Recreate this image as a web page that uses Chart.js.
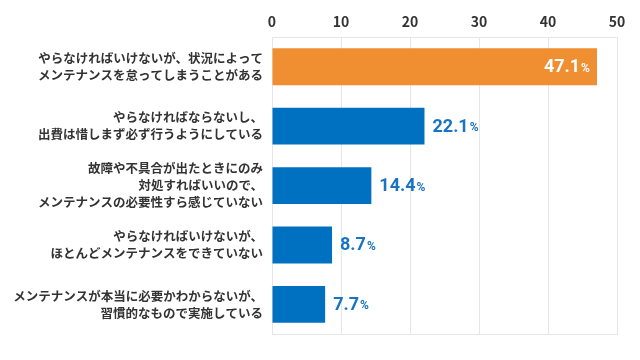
<!DOCTYPE html>
<html lang="ja">
<head>
<meta charset="utf-8">
<title>メンテナンスへの意識</title>
<script src="https://cdn.jsdelivr.net/npm/chart.js@4.4.1/dist/chart.umd.min.js"></script>
<style>
  html, body { margin: 0; padding: 0; background: #fff; }
  #wrap { width: 640px; height: 360px; }
</style>
</head>
<body>
<div id="wrap"><canvas id="chartMaint" width="640" height="360"></canvas></div>
<script>
// ---- data ----
const categories = [
  ['やらなければいけないが、状況によって', 'メンテナンスを怠ってしまうことがある'],
  ['やらなければならないし、', '出費は惜しまず必ず行うようにしている'],
  ['故障や不具合が出たときにのみ', '対処すればいいので、', 'メンテナンスの必要性すら感じていない'],
  ['やらなければいけないが、', 'ほとんどメンテナンスをできていない'],
  ['メンテナンスが本当に必要かわからないが、', '習慣的なもので実施している']
];
const values = [47.1, 22.1, 14.4, 8.7, 7.7];
const tickValues = [0, 10, 20, 30, 40, 50];

(function () {
  'use strict';

  const ORANGE = '#ef8f32';
  const BLUE = '#0071c1';
  const LABEL_BLUE = '#1874c3';
  const INK = '#333333';
  const GRID = '#e6e6e6';
  const JP = "'Noto Sans CJK JP', 'Noto Sans', sans-serif";
  const NUM = "Roboto, 'Noto Sans CJK JP', sans-serif";

  // value labels: "47.1" + smaller "%"
  const valueLabels = {
    id: 'valueLabels',
    afterDatasetsDraw: function (chart) {
      const ctx = chart.ctx;
      const meta = chart.getDatasetMeta(0);
      ctx.save();
      ctx.textBaseline = 'middle';
      meta.data.forEach(function (bar, i) {
        const num = values[i].toFixed(1);
        ctx.font = '700 18px ' + NUM;
        const wNum = ctx.measureText(num).width;
        ctx.font = '700 12px ' + NUM;
        const wPct = ctx.measureText('%').width;
        let x;
        if (i === 0) {
          ctx.fillStyle = '#ffffff';
          x = bar.x - 7 - wNum - wPct - 1;
        } else {
          ctx.fillStyle = LABEL_BLUE;
          x = bar.x + 8;
        }
        const y = bar.y + 1;
        ctx.textAlign = 'left';
        ctx.font = '700 18px ' + NUM;
        ctx.fillText(num, x, y);
        ctx.font = '700 12px ' + NUM;
        ctx.fillText('%', x + wNum + 1, y + 1);
      });
      ctx.restore();
    }
  };

  new Chart(document.getElementById('chartMaint'), {
    type: 'bar',
    data: {
      labels: categories,
      datasets: [{
        data: values,
        backgroundColor: values.map(function (v, i) { return i === 0 ? ORANGE : BLUE; }),
        barPercentage: 0.62,
        categoryPercentage: 1
      }]
    },
    options: {
      indexAxis: 'y',
      responsive: false,
      animation: false,
      layout: { padding: { left: 0, right: 23, top: 0, bottom: 25 } },
      plugins: {
        legend: { display: false },
        tooltip: { enabled: false }
      },
      scales: {
        x: {
          position: 'top',
          min: 0,
          max: 50,
          afterBuildTicks: function (s) {
            s.ticks = tickValues.map(function (v) { return { value: v }; });
          },
          afterFit: function (s) { s.height = 37; },
          grid: { color: GRID, drawTicks: false },
          border: { display: true, color: GRID },
          ticks: {
            color: INK,
            padding: 7,
            font: { family: JP, size: 14, weight: 'bold' }
          }
        },
        x2: {
          position: 'bottom',
          min: 0,
          max: 50,
          afterFit: function (s) { s.height = 0; },
          grid: { display: false, drawTicks: false },
          border: { display: true, color: GRID },
          ticks: { display: false }
        },
        y: {
          afterFit: function (s) { s.width = 272; },
          grid: { display: false, drawTicks: false },
          border: { display: true, color: GRID },
          ticks: {
            color: INK,
            padding: 9,
            autoSkip: false,
            font: { family: JP, size: 12.5, weight: 'bold', lineHeight: 1.35 }
          }
        }
      }
    },
    plugins: [valueLabels]
  });
})();
</script>
</body>
</html>
